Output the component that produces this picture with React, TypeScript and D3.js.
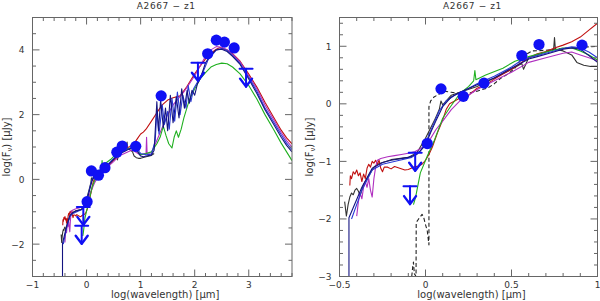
import React from 'react'
import * as d3 from 'd3'

type P = [number, number]

// photometry: log(wavelength) [um], log(F_nu) [uJy]
const detections: P[] = [
  [0.01, -0.69], [0.09, 0.26], [0.22, 0.13], [0.34, 0.36], [0.56, 0.84],
  [0.66, 1.03], [0.91, 1.02], [1.38, 2.58], [2.24, 3.88], [2.40, 4.30],
  [2.55, 4.24], [2.73, 4.06],
]
const upperLimits: P[] = [[-0.06, -0.85], [-0.09, -1.43], [2.06, 3.6], [2.95, 3.42]]

// model SEDs
const redModel: P[] = [
  [-0.44, -1.42], [-0.437, -1.25], [-0.43, -1.3], [-0.42, -1.18], [-0.41, -1.22], [-0.4, -1.15],
  [-0.39, -1.25], [-0.38, -1.2], [-0.37, -1.35], [-0.36, -1.22], [-0.35, -1.3], [-0.34, -1.12],
  [-0.33, -1.05], [-0.32, -1.1], [-0.31, -1.0], [-0.3, -1.03], [-0.29, -0.98], [-0.28, -1.05],
  [-0.27, -0.98], [-0.26, -1.12], [-0.25, -1.18], [-0.24, -1.1], [-0.22, -1.1], [-0.2, -1.13],
  [-0.18, -1.09], [-0.15, -1.12], [-0.12, -1.15], [-0.1, -1.14], [-0.07, -1.1], [-0.04, -1.08],
  [-0.02, -1.05], [0.0, -0.98], [0.02, -0.88], [0.04, -0.75], [0.07, -0.5], [0.1, -0.28],
  [0.12, -0.1], [0.14, 0.0], [0.17, 0.05], [0.2, 0.1], [0.22, 0.08], [0.24, 0.12], [0.27, 0.2],
  [0.3, 0.27], [0.35, 0.33], [0.4, 0.43], [0.45, 0.52], [0.5, 0.6], [0.55, 0.7], [0.6, 0.8],
  [0.65, 0.87], [0.7, 0.91], [0.75, 0.97], [0.8, 1.02], [0.85, 1.08], [0.9, 1.16], [0.95, 1.28],
  [1.0, 1.4], [1.05, 1.46], [1.1, 1.55], [1.2, 1.8], [1.3, 2.06], [1.4, 2.3], [1.5, 2.45],
  [1.6, 2.52], [1.73, 2.58], [1.85, 2.85], [2.0, 3.26], [2.1, 3.5], [2.2, 3.72], [2.3, 3.9],
  [2.4, 4.02], [2.47, 4.07], [2.6, 4.0], [2.7, 3.88], [2.84, 3.65], [3.0, 3.25], [3.15, 2.85],
  [3.3, 2.38], [3.46, 1.92], [3.6, 1.52], [3.7, 1.28], [3.8, 1.1],
]
const magentaModel: P[] = [
  [-0.4, -1.95], [-0.39, -1.7], [-0.38, -1.55], [-0.37, -1.65], [-0.36, -1.45], [-0.35, -1.35],
  [-0.34, -1.45], [-0.33, -1.3], [-0.32, -1.5], [-0.31, -1.62], [-0.3, -1.3], [-0.29, -1.1],
  [-0.28, -0.98], [-0.26, -0.95], [-0.22, -0.92], [-0.18, -0.9], [-0.14, -0.88], [-0.1, -0.86],
  [-0.06, -0.83], [-0.03, -0.78], [0.0, -0.72], [0.03, -0.6], [0.06, -0.45], [0.1, -0.3],
  [0.15, -0.1], [0.2, 0.05], [0.25, 0.15], [0.3, 0.25], [0.4, 0.4], [0.5, 0.55], [0.6, 0.72],
  [0.7, 0.8], [0.8, 0.88], [0.85, 0.9], [0.9, 0.85], [0.95, 0.8], [1.0, 0.75], [1.05, 0.78],
  [1.1, 0.8], [1.11, 1.3], [1.12, 0.8], [1.2, 0.82], [1.3, 1.2], [1.4, 1.6], [1.5, 2.0],
  [1.6, 2.3], [1.7, 2.5], [1.8, 2.7], [1.9, 2.95], [2.0, 3.2], [2.1, 3.5], [2.2, 3.8], [2.3, 4.0],
  [2.4, 4.1], [2.5, 4.08], [2.6, 4.0], [2.7, 3.87], [2.84, 3.63], [3.0, 3.2], [3.15, 2.8],
  [3.3, 2.3], [3.46, 1.85], [3.6, 1.45], [3.7, 1.2], [3.8, 1.0],
]
const blackModel: P[] = [
  [-0.47, -1.7], [-0.46, -1.95], [-0.45, -1.75], [-0.44, -1.62], [-0.43, -1.55], [-0.42, -1.58],
  [-0.41, -1.5], [-0.4, -1.47], [-0.39, -1.52], [-0.38, -1.6], [-0.37, -1.5], [-0.36, -1.4],
  [-0.34, -1.3], [-0.32, -1.2], [-0.3, -1.1], [-0.28, -1.05], [-0.2, -0.97], [-0.1, -0.93],
  [-0.05, -0.85], [0.0, -0.6], [0.05, -0.3], [0.08, -0.1], [0.09, 0.05], [0.1, -0.02],
  [0.15, 0.15], [0.2, 0.2], [0.3, 0.3], [0.4, 0.45], [0.5, 0.6], [0.56, 0.7], [0.57, 0.6],
  [0.6, 0.8], [0.7, 0.9], [0.745, 0.95], [0.75, 1.15], [0.755, 0.95], [0.8, 0.92], [0.85, 0.85],
  [0.88, 0.72], [0.92, 0.67], [0.96, 0.65], [1.0, 0.65], [1.1, 0.7], [1.2, 0.74], [1.25, 0.8],
]
const greenModel: P[] = [
  [-0.07, -1.75], [-0.058, -1.63], [-0.03, -1.2], [0.01, -0.91], [0.048, -0.66], [0.1, -0.25],
  [0.145, -0.05], [0.2, 0.18], [0.25, 0.3], [0.28, 0.4], [0.287, 0.58], [0.293, 0.42],
  [0.35, 0.5], [0.45, 0.62], [0.52, 0.74], [0.6, 0.82], [0.7, 0.9], [0.8, 0.97], [0.85, 0.97],
  [0.9, 0.92], [0.95, 0.85], [1.0, 0.76], [1.1, 0.8], [1.2, 0.85], [1.3, 1.1], [1.36, 1.3],
  [1.42, 1.64], [1.47, 1.35], [1.52, 1.1], [1.58, 0.97], [1.62, 1.3], [1.66, 1.5], [1.7, 1.3],
  [1.75, 1.55], [1.8, 1.9], [1.9, 2.45], [2.0, 2.8], [2.1, 3.1], [2.2, 3.3], [2.3, 3.47],
  [2.4, 3.55], [2.5, 3.59], [2.6, 3.57], [2.7, 3.47], [2.84, 3.26], [3.0, 2.9], [3.15, 2.48],
  [3.3, 2.0], [3.46, 1.54], [3.6, 1.12], [3.7, 0.85], [3.8, 0.58],
]
const blueModel: P[] = [
  [-0.43, -2.0], [-0.37, -1.5], [-0.31, -1.15], [-0.25, -1.05], [-0.15, -0.98], [-0.08, -0.93],
  [-0.03, -0.82], [0.0, -0.68], [0.04, -0.4], [0.08, -0.12], [0.12, 0.05], [0.17, 0.15],
  [0.22, 0.22], [0.3, 0.35], [0.4, 0.48], [0.5, 0.64], [0.55, 0.74], [0.6, 0.8], [0.7, 0.88],
  [0.8, 0.96], [0.85, 0.99], [0.9, 0.97], [0.95, 0.9], [1.0, 0.8], [1.1, 0.76], [1.2, 0.78],
  [1.27, 1.2], [1.3, 2.1], [1.34, 1.4], [1.4, 2.3], [1.44, 1.7], [1.5, 2.1], [1.53, 1.55],
  [1.58, 2.5], [1.63, 1.8], [1.68, 2.7], [1.73, 2.0], [1.78, 2.6], [1.84, 2.2], [1.88, 2.9],
  [1.93, 2.4], [1.98, 2.8], [2.05, 3.0], [2.15, 3.3], [2.25, 3.7], [2.4, 4.0], [2.5, 4.04],
  [2.6, 3.98], [2.7, 3.83], [2.84, 3.58], [3.0, 3.15], [3.15, 2.72], [3.3, 2.2], [3.46, 1.77],
  [3.6, 1.38], [3.7, 1.12], [3.8, 0.92],
]
const navyModel: P[] = [
  [-0.445, -3.0], [-0.445, -1.98], [-0.37, -1.45], [-0.31, -1.12], [-0.25, -1.02], [-0.2, -0.98],
  [-0.1, -0.93], [-0.05, -0.88], [0.0, -0.72], [0.03, -0.5], [0.06, -0.3], [0.1, -0.05],
  [0.15, 0.12], [0.2, 0.2], [0.3, 0.33], [0.4, 0.45], [0.5, 0.62], [0.6, 0.78], [0.65, 0.82],
  [0.7, 0.86], [0.8, 0.95], [0.85, 0.97], [0.9, 0.95], [0.95, 0.84], [1.0, 0.72], [1.05, 0.7],
  [1.1, 0.72], [1.2, 0.75], [1.25, 0.9], [1.3, 2.4], [1.33, 1.5], [1.37, 2.45], [1.42, 1.6],
  [1.46, 2.2], [1.5, 1.5], [1.55, 2.6], [1.6, 1.75], [1.66, 2.55], [1.71, 1.9], [1.76, 2.8],
  [1.81, 2.2], [1.86, 2.75], [1.9, 2.35], [1.95, 2.75], [2.0, 2.6], [2.05, 2.95], [2.1, 3.1],
  [2.2, 3.6], [2.3, 3.85], [2.4, 4.0], [2.5, 4.02], [2.6, 3.95], [2.7, 3.8], [2.84, 3.55],
  [3.0, 3.1], [3.15, 2.65], [3.3, 2.15], [3.46, 1.7], [3.6, 1.3], [3.7, 1.05], [3.8, 0.85],
]
// stellar template, shown only in the zoomed panel
const dashedModel: P[] = [
  [-0.08, -3.0], [-0.075, -2.85], [-0.07, -2.75], [-0.065, -2.95], [-0.055, -3.0], [-0.054, -2.06],
  [-0.04, -2.0], [-0.02, -1.92], [-0.01, -1.98], [0.0, -2.1], [0.01, -2.2], [0.02, -2.45],
  [0.02, -0.05], [0.03, 0.05], [0.05, 0.12], [0.08, 0.17], [0.107, 0.22], [0.15, 0.2],
  [0.2, 0.18], [0.24, 0.17], [0.27, 0.2], [0.3, 0.22], [0.33, 0.25], [0.36, 0.27], [0.4, 0.35],
  [0.44, 0.45], [0.48, 0.52], [0.52, 0.62], [0.55, 0.75], [0.58, 0.85], [0.62, 0.92], [0.7, 0.93],
  [0.75, 0.95], [0.85, 0.98], [0.95, 0.99], [1.0, 1.0],
]

const models: { data: P[]; color: string }[] = [
  { data: blackModel, color: '#333333' },
  { data: redModel, color: '#c01010' },
  { data: magentaModel, color: '#b030c0' },
  { data: greenModel, color: '#20b020' },
  { data: blueModel, color: '#2a3ad8' },
  { data: navyModel, color: '#141480' },
]

const xTicksLeft = [-1, 0, 1, 2, 3]
const yTicksLeft = [-2, 0, 2, 4]
const xTicksRight = [-0.5, 0, 0.5, 1]
const yTicksRight = [-3, -2, -1, 0, 1]

const title = 'A2667 \u2212 z1'
const BLUE = '#1010f4'
const FONT = 'DejaVu Sans, sans-serif'

const fmt = (v: number) => (v < 0 ? '\u2212' + Math.abs(v) : String(v))

function Panel(props: {
  id: string
  x: d3.ScaleLinear<number, number>
  y: d3.ScaleLinear<number, number>
  xTicks: number[]
  yTicks: number[]
  xMinor: number
  yMinor: number
  showDashed: boolean
  ylabelX: number
}) {
  const { id, x, y, xTicks, yTicks, xMinor, yMinor } = props
  const [x0, x1] = x.range()
  const [y0, y1] = y.range() // y0 bottom, y1 top
  const line = d3.line<P>().x(d => x(d[0])).y(d => y(d[1]))
  const xd = x.domain(), yd = y.domain()
  const xm = d3.range(xd[0], xd[1] + 1e-9, xMinor)
  const ym = d3.range(yd[0], yd[1] + 1e-9, yMinor)
  const isMajor = (v: number, arr: number[]) => arr.some(t => Math.abs(t - v) < 1e-6)
  const cx = (x0 + x1) / 2
  const cy = (y0 + y1) / 2

  return (
    <g>
      <defs>
        <clipPath id={id}>
          <rect x={x0} y={y1} width={x1 - x0} height={y0 - y1} />
        </clipPath>
      </defs>
      <text x={cx + 4} y={9} textAnchor="middle" fontSize={9} fill="#333" fontFamily={FONT}
        letterSpacing={0.6}>{title}</text>

      <g clipPath={`url(#${id})`} fill="none" strokeWidth={1.1} strokeLinejoin="round">
        {props.showDashed && (
          <path d={line(dashedModel) || ''} stroke="#222" strokeDasharray="4,2.5" />
        )}
        {models.map((m, i) => (
          <path key={i} d={line(m.data) || ''} stroke={m.color} />
        ))}
        {upperLimits.map((u, i) => {
          const px = x(u[0]), py = y(u[1])
          return (
            <g key={i} stroke={BLUE} strokeWidth={2} strokeLinecap="round">
              <line x1={px - 6.5} x2={px + 6.5} y1={py} y2={py} />
              <line x1={px} x2={px} y1={py} y2={py + 18} />
              <polyline points={`${px - 6},${py + 10} ${px},${py + 18} ${px + 6},${py + 10}`} fill="none" strokeWidth={2.4} />
            </g>
          )
        })}
        {detections.map((d, i) => (
          <circle key={i} cx={x(d[0])} cy={y(d[1])} r={5.6} fill={BLUE} />
        ))}
      </g>

      <g stroke="#666" strokeWidth={1} fill="none">
        <rect x={x0} y={y1} width={x1 - x0} height={y0 - y1} />
        {xm.map((v, i) => {
          const len = isMajor(v, xTicks) ? 7 : 3.5
          return (
            <g key={'x' + i}>
              <line x1={x(v)} x2={x(v)} y1={y0} y2={y0 - len} />
              <line x1={x(v)} x2={x(v)} y1={y1} y2={y1 + len} />
            </g>
          )
        })}
        {ym.map((v, i) => {
          const len = isMajor(v, yTicks) ? 7 : 3.5
          return (
            <g key={'y' + i}>
              <line x1={x0} x2={x0 + len} y1={y(v)} y2={y(v)} />
              <line x1={x1} x2={x1 - len} y1={y(v)} y2={y(v)} />
            </g>
          )
        })}
      </g>

      <g fontSize={9} fill="#333" fontFamily={FONT}>
        {xTicks.map(t => (
          <text key={t} x={x(t)} y={y0 + 11} textAnchor="middle">{fmt(t)}</text>
        ))}
        {yTicks.map(t => (
          <text key={t} x={x0 - 8} y={y(t) + 3.5} textAnchor="end">{fmt(t)}</text>
        ))}
      </g>
      <text x={cx + 3} y={y0 + 21} textAnchor="middle" fontSize={10} fill="#333" fontFamily={FONT}>
        log(wavelength) [μm]
      </text>
      <text transform={`translate(${props.ylabelX},${cy}) rotate(-90)`} textAnchor="middle"
        fontSize={10} fill="#333" fontFamily={FONT}>
        log(F<tspan fontSize={7} dy={2}>ν</tspan><tspan dy={-2}>) [μJy]</tspan>
      </text>
    </g>
  )
}

export default function App() {
  const leftX = d3.scaleLinear().domain([-1, 3.8]).range([32.5, 292])
  const leftY = d3.scaleLinear().domain([-3, 5]).range([276.5, 17.5])
  const rightX = d3.scaleLinear().domain([-0.5, 1]).range([339.5, 597.5])
  const rightY = d3.scaleLinear().domain([-3, 1.5]).range([276.5, 17.5])

  return (
    <svg width={600} height={301} style={{ position: 'absolute', left: 0, top: 0, background: '#fff' }}>
      <rect width={600} height={301} fill="#fff" />
      <Panel id="clipL" x={leftX} y={leftY} xTicks={xTicksLeft} yTicks={yTicksLeft}
        xMinor={0.2} yMinor={0.5} showDashed={false} ylabelX={10} />
      <Panel id="clipR" x={rightX} y={rightY} xTicks={xTicksRight} yTicks={yTicksRight}
        xMinor={0.1} yMinor={0.2} showDashed={true} ylabelX={313} />
    </svg>
  )
}
